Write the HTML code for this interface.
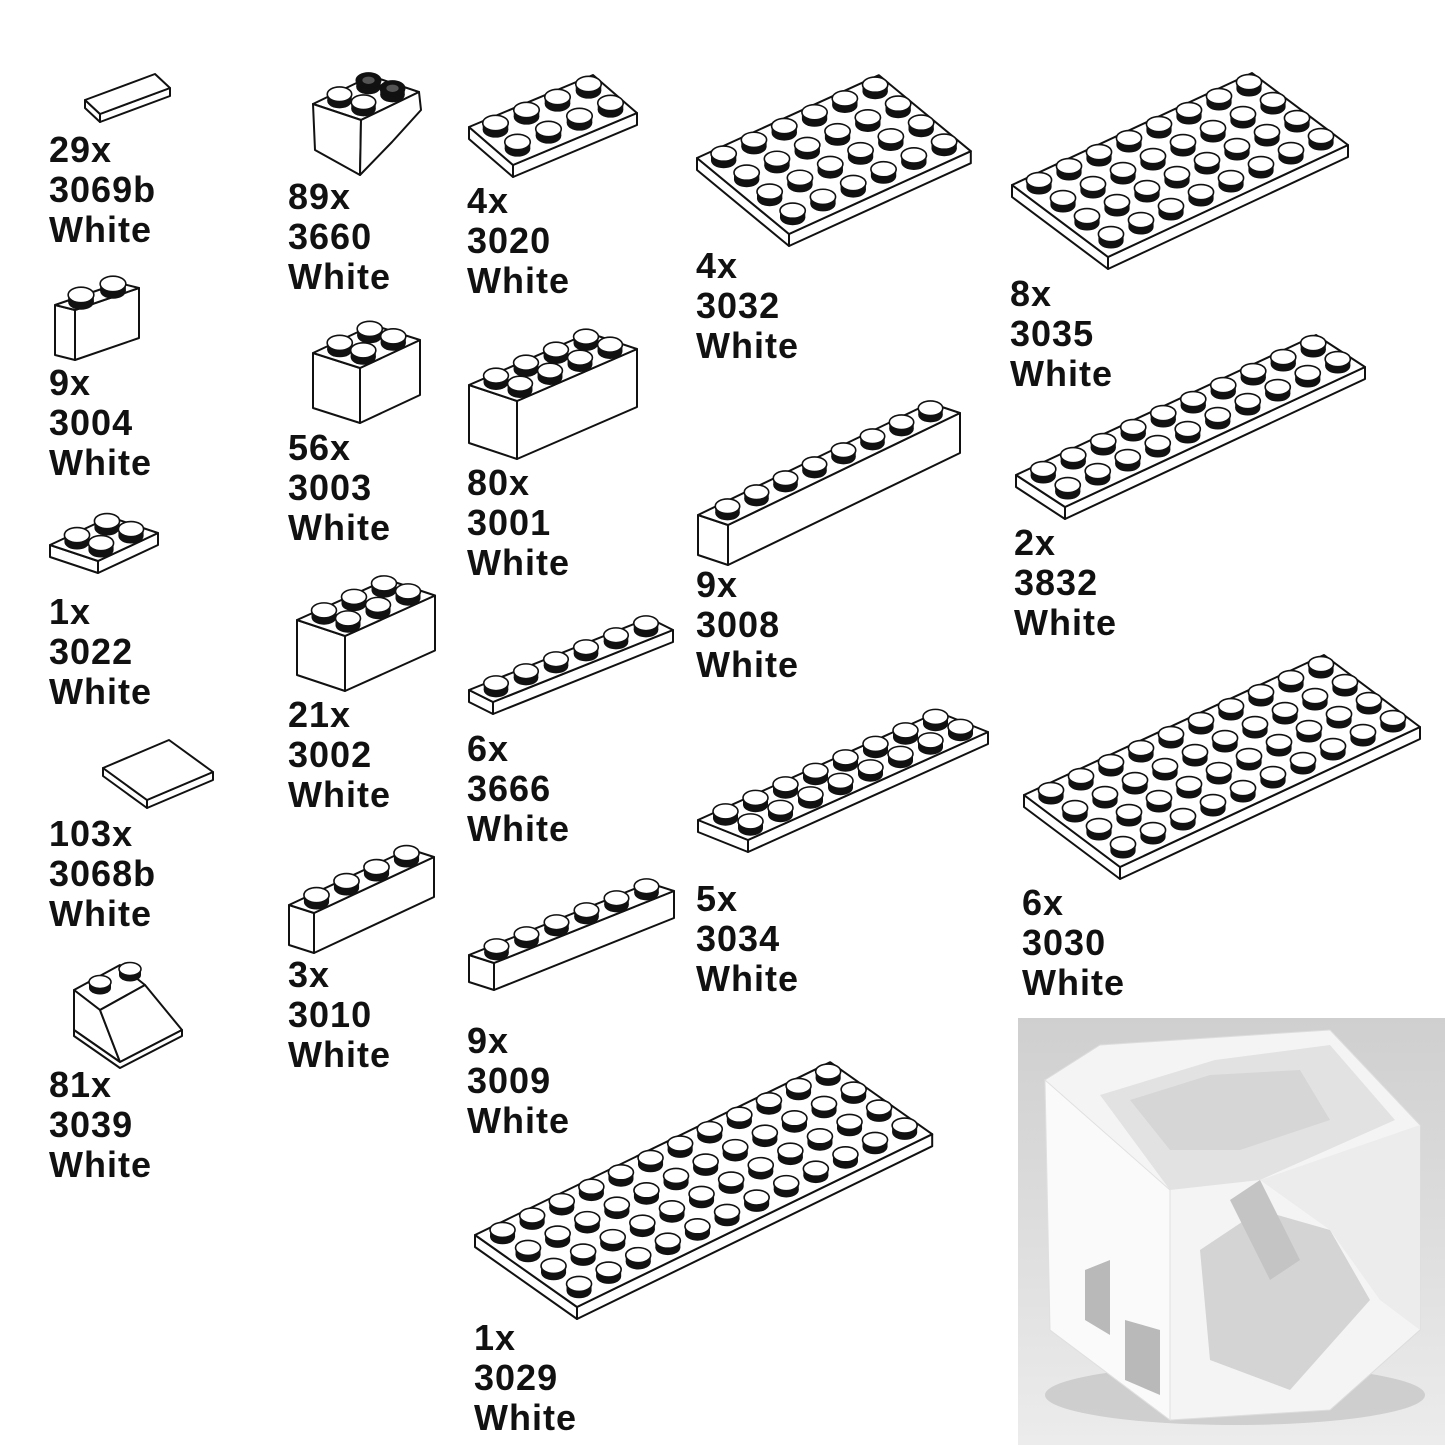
<!DOCTYPE html>
<html><head><meta charset="utf-8">
<style>
html,body{margin:0;padding:0;background:#fff;}
#wrap{position:relative;width:1445px;height:1445px;overflow:hidden;background:#fff;}
.lbl{position:absolute;font-family:"Liberation Sans",Arial,sans-serif;font-weight:bold;font-size:36px;line-height:40px;color:#111;white-space:nowrap;letter-spacing:1px;}
svg{position:absolute;left:0;top:0;}
</style></head>
<body>
<div id="wrap">
<svg id="s" width="1445" height="1445" viewBox="0 0 1445 1445">
<defs>
<linearGradient id="bg" x1="0" y1="0" x2="0" y2="1">
<stop offset="0" stop-color="#cfcfcf"/><stop offset="1" stop-color="#ececec"/>
</linearGradient>
</defs>
<rect x="1018" y="1018" width="427" height="427" fill="url(#bg)"/>
<ellipse cx="1235" cy="1395" rx="190" ry="30" fill="#bdbdbd" opacity="0.6"/>
<polygon points="1045,1080 1100,1045 1330,1030 1420,1125 1420,1330 1330,1410 1170,1420 1050,1330" fill="#f4f4f4" stroke="#ddd"/>
<polygon points="1100,1095 1215,1060 1330,1045 1395,1120 1260,1180 1170,1190" fill="#e2e2e2"/>
<polygon points="1130,1100 1210,1075 1300,1070 1330,1120 1240,1150 1170,1150" fill="#d6d6d6"/>
<polygon points="1045,1080 1170,1190 1170,1420 1050,1330" fill="#fafafa" stroke="#e0e0e0"/>
<polygon points="1085,1270 1110,1260 1110,1335 1085,1320" fill="#b9b9b9"/>
<polygon points="1125,1320 1160,1330 1160,1395 1125,1380" fill="#b9b9b9"/>
<polygon points="1200,1250 1260,1210 1330,1230 1370,1300 1290,1390 1210,1360" fill="#d4d4d4"/>
<polygon points="1260,1180 1420,1125 1420,1330 1380,1300 1330,1230" fill="#ececec"/>
<polygon points="1230,1200 1260,1180 1300,1260 1270,1280" fill="#c4c4c4"/>
<g id="parts"></g>
</svg>

<div class="lbl" style="left:49px;top:130px">29x<br>3069b<br>White</div>
<div class="lbl" style="left:49px;top:363px">9x<br>3004<br>White</div>
<div class="lbl" style="left:49px;top:592px">1x<br>3022<br>White</div>
<div class="lbl" style="left:49px;top:814px">103x<br>3068b<br>White</div>
<div class="lbl" style="left:49px;top:1065px">81x<br>3039<br>White</div>
<div class="lbl" style="left:288px;top:177px">89x<br>3660<br>White</div>
<div class="lbl" style="left:288px;top:428px">56x<br>3003<br>White</div>
<div class="lbl" style="left:288px;top:695px">21x<br>3002<br>White</div>
<div class="lbl" style="left:288px;top:955px">3x<br>3010<br>White</div>
<div class="lbl" style="left:467px;top:181px">4x<br>3020<br>White</div>
<div class="lbl" style="left:467px;top:463px">80x<br>3001<br>White</div>
<div class="lbl" style="left:467px;top:729px">6x<br>3666<br>White</div>
<div class="lbl" style="left:467px;top:1021px">9x<br>3009<br>White</div>
<div class="lbl" style="left:474px;top:1318px">1x<br>3029<br>White</div>
<div class="lbl" style="left:696px;top:246px">4x<br>3032<br>White</div>
<div class="lbl" style="left:696px;top:565px">9x<br>3008<br>White</div>
<div class="lbl" style="left:696px;top:879px">5x<br>3034<br>White</div>
<div class="lbl" style="left:1010px;top:274px">8x<br>3035<br>White</div>
<div class="lbl" style="left:1014px;top:523px">2x<br>3832<br>White</div>
<div class="lbl" style="left:1022px;top:883px">6x<br>3030<br>White</div>
</div>
<script>
var g=document.getElementById('parts');var out='';
function P(a){return a.map(function(p){return p[0].toFixed(1)+','+p[1].toFixed(1)}).join(' ');}
function add(a,b,k){return [a[0]+b[0]*k,a[1]+b[1]*k];}
function part(O,u,v,L,W,h,studs,opt){
 opt=opt||{};
 var A=O,B=add(O,u,L),C=add(B,v,W),D=add(O,v,W);
 var dn=[0,h];
 var sw='stroke="#111" stroke-width="2" stroke-linejoin="round" fill="#fff"';
 out+='<polygon '+sw+' points="'+P([A,D,add(D,dn,1),add(A,dn,1)])+'"/>';
 out+='<polygon '+sw+' points="'+P([D,C,add(C,dn,1),add(D,dn,1)])+'"/>';
 out+='<polygon '+sw+' points="'+P([A,B,C,D])+'"/>';
 if(!studs)return;
 var ul=Math.hypot(u[0],u[1]);var rx=ul*0.38,ry=rx*0.6,sh=rx*0.55;
 var list=[];
 for(var i=0;i<L;i++)for(var j=0;j<W;j++){var c=add(add(O,u,i+0.5),v,j+0.5);list.push([c,i,j]);}
 list.sort(function(a,b){return a[0][1]-b[0][1];});
 list.forEach(function(s){
  var c=s[0];var blk=opt.black&&opt.black(s[1],s[2]);
  var f=blk?'#111':'#fff';
  out+='<ellipse cx="'+c[0]+'" cy="'+c[1]+'" rx="'+rx+'" ry="'+ry+'" fill="#111"/>';
  out+='<rect x="'+(c[0]-rx)+'" y="'+(c[1]-sh)+'" width="'+(2*rx)+'" height="'+sh+'" fill="#111"/>';
  out+='<ellipse cx="'+c[0]+'" cy="'+(c[1]-sh)+'" rx="'+rx+'" ry="'+ry+'" fill="'+f+'" stroke="#111" stroke-width="1.6"/>';
  if(blk)out+='<ellipse cx="'+c[0]+'" cy="'+(c[1]-sh)+'" rx="'+rx*0.5+'" ry="'+ry*0.5+'" fill="#555"/>';
 });
}
part([85,100],[35,-13],[15,14],2,1,8,false);
part([55,305],[32,-11],[20,5],2,1,50,true);
part([50,545],[30,-14],[24,8],2,2,12,true);
part([103,768],[33,-14],[22,16],2,2,8,false);
(function(){
 var sw='stroke="#111" stroke-width="2" stroke-linejoin="round" fill="#fff"';
 out+='<polygon '+sw+' points="74,990 120,965 145,985 100,1010"/>';
 out+='<polygon '+sw+' points="74,990 100,1010 120,1062 74,1030"/>';
 out+='<polygon '+sw+' points="100,1010 145,985 182,1030 120,1062"/>';
 out+='<polygon '+sw+' points="74,1030 120,1062 182,1030 182,1036 120,1068 74,1036" />';
 [[100,988],[130,975]].forEach(function(c){
  out+='<ellipse cx="'+c[0]+'" cy="'+c[1]+'" rx="11" ry="6.5" fill="#111"/><rect x="'+(c[0]-11)+'" y="'+(c[1]-6)+'" width="22" height="6" fill="#111"/><ellipse cx="'+c[0]+'" cy="'+(c[1]-6)+'" rx="11" ry="6.5" fill="#fff" stroke="#111" stroke-width="1.6"/>';
 });
})();
(function(){
 part([313,104],[29,-14],[24,8],2,2,0,true,{black:function(i,j){return i==1;}});
 var sw='stroke="#111" stroke-width="2" stroke-linejoin="round" fill="#fff"';
 out+='<polygon '+sw+' points="313,104 361,120 360,175 315,150"/>';
 out+='<polygon '+sw+' points="361,120 419,92 421,110 392,142 360,175"/>';
})();
part([313,353],[30,-14],[23.5,7.5],2,2,55,true);
part([297,620],[30,-13.5],[24,8],3,2,55,true);
part([289,905],[30,-14],[25,8],4,1,40,true);
part([469,127],[31,-13],[22,19],4,2,12,true);
part([469,385],[30,-13],[24,8],4,2,58,true);
part([469,690],[30,-12],[24,12],6,1,12,true);
part([469,955],[30,-12],[25,8],6,1,27,true);
part([475,1235],[29.6,-14.4],[25.5,18],12,4,12,true);
part([697,158],[30.3,-13.8],[23,19],6,4,12,true);
part([698,515],[29,-14],[30,10],8,1,40,true);
part([698,820],[30,-13.5],[25,10],8,2,12,true);
part([1012,185],[30,-14],[24,18],8,4,12,true);
part([1016,475],[30,-14],[24.5,16],10,2,12,true);
part([1024,795],[30,-14],[24,18],10,4,12,true);
g.innerHTML=out;
</script>
</body></html>
